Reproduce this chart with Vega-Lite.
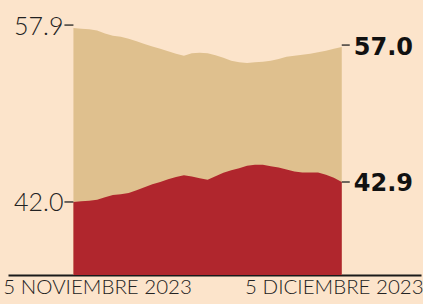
{
  "$schema": "https://vega.github.io/schema/vega-lite/v6.json",
  "width": 413,
  "height": 275,
  "autosize": "none",
  "padding": {"left": 8, "top": 0, "right": 2, "bottom": 29},
  "background": "#fce4cb",
  "config": {"view": {"stroke": null}},
  "data": {
    "format": {"parse": {"date": "date"}},
    "values": [
      {"date": "2023-11-02T00:00:00", "tan": 57.90, "red": 42.00},
      {"date": "2023-11-03T00:00:00", "tan": 57.87, "red": 42.03},
      {"date": "2023-11-04T00:00:00", "tan": 57.85, "red": 42.05},
      {"date": "2023-11-05T00:00:00", "tan": 57.78, "red": 42.10},
      {"date": "2023-11-06T00:00:00", "tan": 57.64, "red": 42.21},
      {"date": "2023-11-07T00:00:00", "tan": 57.54, "red": 42.32},
      {"date": "2023-11-08T00:00:00", "tan": 57.49, "red": 42.35},
      {"date": "2023-11-09T00:00:00", "tan": 57.39, "red": 42.41},
      {"date": "2023-11-10T00:00:00", "tan": 57.27, "red": 42.53},
      {"date": "2023-11-11T00:00:00", "tan": 57.15, "red": 42.66},
      {"date": "2023-11-12T00:00:00", "tan": 57.03, "red": 42.80},
      {"date": "2023-11-13T00:00:00", "tan": 56.92, "red": 42.90},
      {"date": "2023-11-14T00:00:00", "tan": 56.80, "red": 43.02},
      {"date": "2023-11-15T00:00:00", "tan": 56.68, "red": 43.13},
      {"date": "2023-11-16T00:00:00", "tan": 56.59, "red": 43.20},
      {"date": "2023-11-17T00:00:00", "tan": 56.71, "red": 43.15},
      {"date": "2023-11-18T00:00:00", "tan": 56.73, "red": 43.07},
      {"date": "2023-11-19T00:00:00", "tan": 56.71, "red": 43.00},
      {"date": "2023-11-20T00:00:00", "tan": 56.61, "red": 43.16},
      {"date": "2023-11-21T00:00:00", "tan": 56.49, "red": 43.32},
      {"date": "2023-11-22T00:00:00", "tan": 56.35, "red": 43.43},
      {"date": "2023-11-23T00:00:00", "tan": 56.28, "red": 43.52},
      {"date": "2023-11-24T00:00:00", "tan": 56.25, "red": 43.63},
      {"date": "2023-11-25T00:00:00", "tan": 56.28, "red": 43.68},
      {"date": "2023-11-26T00:00:00", "tan": 56.30, "red": 43.68},
      {"date": "2023-11-27T00:00:00", "tan": 56.35, "red": 43.61},
      {"date": "2023-11-28T00:00:00", "tan": 56.44, "red": 43.55},
      {"date": "2023-11-29T00:00:00", "tan": 56.54, "red": 43.46},
      {"date": "2023-11-30T00:00:00", "tan": 56.59, "red": 43.37},
      {"date": "2023-12-01T00:00:00", "tan": 56.63, "red": 43.33},
      {"date": "2023-12-02T00:00:00", "tan": 56.68, "red": 43.33},
      {"date": "2023-12-03T00:00:00", "tan": 56.75, "red": 43.33},
      {"date": "2023-12-04T00:00:00", "tan": 56.82, "red": 43.23},
      {"date": "2023-12-05T00:00:00", "tan": 56.92, "red": 43.09},
      {"date": "2023-12-06T00:00:00", "tan": 57.00, "red": 42.90}
    ]
  },
  "encoding": {
    "x": {
      "field": "date",
      "type": "temporal",
      "scale": {"domain": [
        {"year": 2023, "month": 10, "date": 24, "hours": 17},
        {"year": 2023, "month": 12, "date": 16, "hours": 1}
      ]},
      "axis": {
        "title": null,
        "values": [
          {"year": 2023, "month": 11, "date": 5},
          {"year": 2023, "month": 12, "date": 5}
        ],
        "labelExpr": "month(datum.value) == 10 ? '5 NOVIEMBRE 2023' : '5 DICIEMBRE 2023'",
        "grid": false,
        "ticks": false,
        "tickSize": 0,
        "domainColor": "#1a1a1a",
        "domainWidth": 2,
        "labelFont": "Lato",
        "labelFontWeight": 300,
        "labelFontSize": 20.5,
        "labelColor": "#222222",
        "labelPadding": 2,
        "labelAlign": "center",
        "labelBaseline": "top",
        "labelFlush": false,
        "labelOverlap": false,
        "labelBound": false,
        "labelLimit": 400
      }
    }
  },
  "layer": [
    {
      "encoding": {
        "y": {"field": "tan", "type": "quantitative", "scale": {"domain": [46.2, 59.23], "zero": false}, "axis": null}
      },
      "layer": [
        {"mark": {"type": "area", "color": "#dfc08e", "clip": true}},
        {
          "transform": [{"filter": {"field": "date", "equal": {"year": 2023, "month": 11, "date": 2}}}],
          "mark": {"type": "rule", "x2Offset": -9, "yOffset": -3, "strokeWidth": 1.3, "color": "#222222"},
          "encoding": {"x2": {"field": "date"}}
        },
        {
          "transform": [{"filter": {"field": "date", "equal": {"year": 2023, "month": 11, "date": 2}}}],
          "mark": {"type": "text", "align": "right", "baseline": "middle", "dx": -10, "dy": -1, "font": "Lato", "fontWeight": 300, "fontSize": 25, "color": "#222222"},
          "encoding": {"text": {"field": "tan", "type": "quantitative", "format": ".1f"}}
        },
        {
          "transform": [{"filter": {"field": "date", "equal": {"year": 2023, "month": 12, "date": 6}}}],
          "mark": {"type": "rule", "x2Offset": 8, "yOffset": -2, "strokeWidth": 1.3, "color": "#222222"},
          "encoding": {"x2": {"field": "date"}}
        },
        {
          "transform": [{"filter": {"field": "date", "equal": {"year": 2023, "month": 12, "date": 6}}}],
          "mark": {"type": "text", "align": "left", "baseline": "middle", "dx": 12, "dy": 1, "font": "DejaVu Sans", "fontWeight": "bold", "fontSize": 24, "color": "#111111"},
          "encoding": {"text": {"field": "tan", "type": "quantitative", "format": ".1f"}}
        }
      ]
    },
    {
      "encoding": {
        "y": {"field": "red", "type": "quantitative", "scale": {"domain": [38.71, 51.1], "zero": false}, "axis": null}
      },
      "layer": [
        {"mark": {"type": "area", "color": "#b0262d", "clip": true}},
        {
          "transform": [{"filter": {"field": "date", "equal": {"year": 2023, "month": 11, "date": 2}}}],
          "mark": {"type": "rule", "x2Offset": -9, "strokeWidth": 1.3, "color": "#222222"},
          "encoding": {"x2": {"field": "date"}}
        },
        {
          "transform": [{"filter": {"field": "date", "equal": {"year": 2023, "month": 11, "date": 2}}}],
          "mark": {"type": "text", "align": "right", "baseline": "middle", "dx": -10, "dy": 1, "font": "Lato", "fontWeight": 300, "fontSize": 25, "color": "#222222"},
          "encoding": {"text": {"field": "red", "type": "quantitative", "format": ".1f"}}
        },
        {
          "transform": [{"filter": {"field": "date", "equal": {"year": 2023, "month": 12, "date": 6}}}],
          "mark": {"type": "rule", "x2Offset": 8, "strokeWidth": 1.3, "color": "#222222"},
          "encoding": {"x2": {"field": "date"}}
        },
        {
          "transform": [{"filter": {"field": "date", "equal": {"year": 2023, "month": 12, "date": 6}}}],
          "mark": {"type": "text", "align": "left", "baseline": "middle", "dx": 12, "dy": 2, "font": "DejaVu Sans", "fontWeight": "bold", "fontSize": 24, "color": "#111111"},
          "encoding": {"text": {"field": "red", "type": "quantitative", "format": ".1f"}}
        }
      ]
    }
  ],
  "resolve": {"scale": {"y": "independent"}}
}
